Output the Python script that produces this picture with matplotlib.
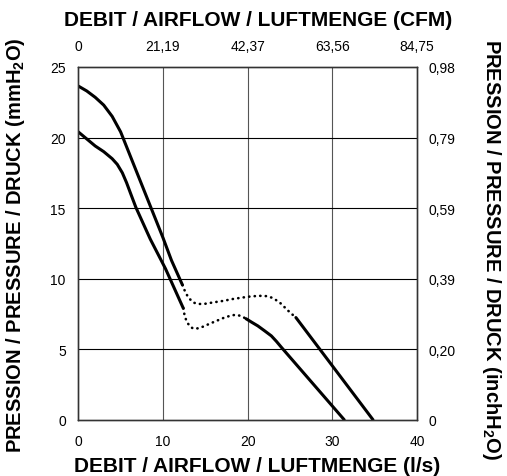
import matplotlib
matplotlib.use('Agg')
import matplotlib.pyplot as plt

plt.rcParams['font.family'] = ['Liberation Sans', 'DejaVu Sans']
plt.rcParams['mathtext.fontset'] = 'custom'
plt.rcParams['mathtext.rm'] = 'Liberation Sans'
plt.rcParams['mathtext.bf'] = 'Liberation Sans:bold'

# courbe haute
a1_x = [0, 1, 2, 3, 4, 5, 6, 7, 8, 9, 10, 11, 12.3]
a1_y = [23.65, 23.3, 22.85, 22.3, 21.5, 20.4, 18.9, 17.4, 15.9, 14.4, 12.9, 11.3, 9.55]
a_dot_x = [12.3, 12.6, 13.0, 13.6, 14.2, 15.0, 16.0, 17.1, 18.2, 19.4, 20.4, 21.4, 22.2,
           22.8, 23.3, 23.8, 24.4, 25.0, 25.7]
a_dot_y = [9.55, 9.1, 8.65, 8.3, 8.2, 8.22, 8.32, 8.42, 8.55, 8.66, 8.74, 8.78, 8.76,
           8.66, 8.5, 8.3, 7.95, 7.6, 7.24]
a2_x = [25.7, 34.8]
a2_y = [7.24, 0]

# courbe basse
b1_x = [0, 1, 2, 3, 4, 4.6, 5.2, 5.7, 6.2, 6.8, 8.5, 10.3, 12.4]
b1_y = [20.4, 19.9, 19.4, 19.0, 18.5, 18.1, 17.5, 16.8, 16.0, 15.05, 12.8, 10.7, 7.9]
b_dot_x = [12.4, 12.55, 12.8, 13.2, 13.6, 14.2, 14.75, 15.5, 16.3, 17.1, 17.85, 18.4,
           18.8, 19.3, 19.8]
b_dot_y = [7.9, 7.4, 6.95, 6.6, 6.45, 6.48, 6.6, 6.8, 7.0, 7.2, 7.35, 7.42,
           7.42, 7.33, 7.16]
b2_x = [19.8, 20.5, 21.2, 22.0, 22.8, 23.4, 24.0, 31.4]
b2_y = [7.16, 6.9, 6.65, 6.3, 5.94, 5.55, 5.12, 0]

x_ticks = [0, 10, 20, 30, 40]
cfm_labels = ['0', '21,19', '42,37', '63,56', '84,75']
y_ticks = [0, 5, 10, 15, 20, 25]
inch_labels = ['0', '0,20', '0,39', '0,59', '0,79', '0,98']

fig = plt.figure(figsize=(5.07, 4.77), dpi=100)
ax = fig.add_axes([78.3/507, 1-420.7/477, (417-78.3)/507, (420.7-68)/477])

ax.set_xlim(0, 40)
ax.set_ylim(0, 25)
ax.set_xticks(x_ticks)
ax.set_yticks(y_ticks)
for x in x_ticks[1:-1]:
    ax.axvline(x, color='#555555', lw=0.8, zorder=1)
for y in y_ticks[1:-1]:
    ax.axhline(y, color='black', lw=0.8, zorder=1)

solid = dict(color='black', lw=2.2, solid_capstyle='round', solid_joinstyle='round', zorder=3)
dotted = dict(color='black', lw=1.9, linestyle=(0, (0.1, 2.0)), dash_capstyle='round', zorder=3)
ax.plot(a1_x, a1_y, **solid)
ax.plot(a_dot_x, a_dot_y, **dotted)
ax.plot(a2_x, a2_y, **solid)
ax.plot(b1_x, b1_y, **solid)
ax.plot(b_dot_x, b_dot_y, **dotted)
ax.plot(b2_x, b2_y, **solid)

ax.tick_params(axis='x', length=0, pad=10, labelsize=10)
ax.tick_params(axis='y', length=0, pad=9, labelsize=10)

# axe du haut (CFM)
axt = ax.twiny()
axt.set_xlim(0, 40)
axt.set_xticks(x_ticks)
axt.set_xticklabels(cfm_labels)
axt.tick_params(axis='x', length=0, pad=10, labelsize=10)

# axe de droite (inchH2O)
axr = ax.twinx()
axr.set_ylim(0, 25)
axr.set_yticks(y_ticks)
axr.set_yticklabels(inch_labels)
axr.tick_params(axis='y', length=0, pad=8, labelsize=10)

for a in (ax, axt, axr):
    for s in a.spines.values():
        s.set_color('#333333')
        s.set_linewidth(0.9)

fig.text(0.509, 0.958, 'DEBIT / AIRFLOW / LUFTMENGE (CFM)', ha='center', va='center',
         fontsize=15, fontweight='bold')
fig.text(0.507, 0.021, 'DEBIT / AIRFLOW / LUFTMENGE (l/s)', ha='center', va='center',
         fontsize=15, fontweight='bold')
fig.text(0.030, 0.486, r'PRESSION / PRESSURE / DRUCK (mmH$\mathbf{_2}$O)', ha='center', va='center',
         rotation=90, fontsize=14.5, fontweight='bold')
fig.text(0.970, 0.476, r'PRESSION / PRESSURE / DRUCK (inchH$\mathbf{_2}$O)', ha='center', va='center',
         rotation=-90, fontsize=14.5, fontweight='bold')

fig.savefig('out.png', dpi=100)
